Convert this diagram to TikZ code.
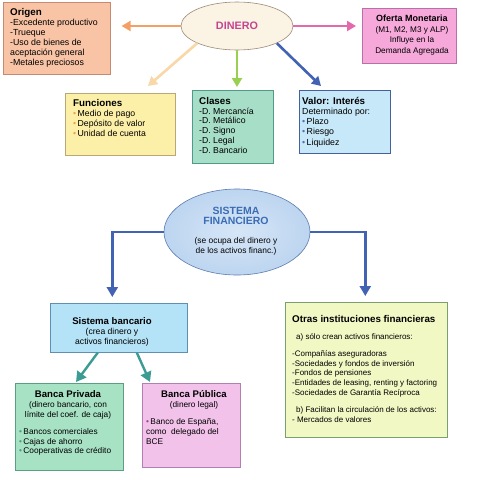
\documentclass[tikz,border=0pt]{standalone}
\usepackage{fontspec}
\setmainfont{Liberation Sans}
\usetikzlibrary{arrows.meta,calc,shapes.geometric}
\definecolor{fOrig}{HTML}{F9C4A6}\definecolor{bOrig}{HTML}{C48A72}
\definecolor{fOfer}{HTML}{F6A8DA}\definecolor{bOfer}{HTML}{B870A8}
\definecolor{fFunc}{HTML}{FCF0A8}\definecolor{bFunc}{HTML}{B8A878}
\definecolor{fClas}{HTML}{A6DEC8}\definecolor{bClas}{HTML}{4F9A88}
\definecolor{fValo}{HTML}{C6E8F8}\definecolor{bValo}{HTML}{45609A}
\definecolor{fDine}{HTML}{FBF4E4}\definecolor{bDine}{HTML}{9C8A78}
\definecolor{fSist}{HTML}{BDD5F0}\definecolor{iSist}{HTML}{D6E6F7}\definecolor{bSist}{HTML}{5C7CB0}
\definecolor{fBanc}{HTML}{B4E2F6}\definecolor{bBanc}{HTML}{6090B0}
\definecolor{fOtra}{HTML}{F2F8C4}\definecolor{bOtra}{HTML}{7AA070}
\definecolor{fPriv}{HTML}{A8E2C4}\definecolor{bPriv}{HTML}{5AA080}
\definecolor{fPubl}{HTML}{F2C2EA}\definecolor{bPubl}{HTML}{B080B0}
\definecolor{aBlue}{HTML}{4262B4}\definecolor{aTeal}{HTML}{3C9C94}
\definecolor{aOran}{HTML}{F2A066}\definecolor{aPink}{HTML}{E468AC}
\definecolor{aGree}{HTML}{98D050}\definecolor{aPeac}{HTML}{F9D7A6}
\definecolor{tDine}{HTML}{C44490}\definecolor{tSist}{HTML}{3C6CB4}
\definecolor{uOran}{HTML}{F0A050}\definecolor{uBlue}{HTML}{5070C0}
\definecolor{uGree}{HTML}{40A080}\definecolor{uPurp}{HTML}{A04090}
\newcommand{\bul}[1]{\textcolor{#1}{\textbullet}\,}
\newcommand{\ttl}[1]{{\bfseries\fontsize{9.8}{10}\selectfont #1}}
\newcommand{\sst}[1]{{\bfseries\color{tSist}\fontsize{10.5}{12}\selectfont #1}}
\newcommand{\ssm}[1]{{\fontsize{8.4}{10.5}\selectfont #1}}
\begin{document}
\begin{tikzpicture}[x=1pt,y=-1pt,
  box/.style={draw, line width=0.6pt, inner sep=0pt, anchor=north west},
  txt/.style={inner sep=0pt, align=left, anchor=north west},
  ctxt/.style={inner sep=0pt, align=center},
  arr/.style={line width=2.6pt, -{Triangle[length=9pt,width=10pt]}},
  arrb/.style={line width=2.4pt, -{Triangle[length=10pt,width=11pt]}}]
\useasboundingbox (0,0) rectangle (478,480);
\fill[white] (0,0) rectangle (478,480);

% top boxes
\node[box, fill=fOrig, draw=bOrig, minimum width=107pt, minimum height=72pt] (origen) at (3,2) {};
\node[box, fill=fOfer, draw=bOfer, minimum width=94pt, minimum height=55pt] (oferta) at (362,8) {};
\node[box, fill=fFunc, draw=bFunc, minimum width=110pt, minimum height=62pt] (funciones) at (65,93) {};
\node[box, fill=fClas, draw=bClas, minimum width=81pt, minimum height=73pt] (clases) at (192,90) {};
\node[box, fill=fValo, draw=bValo, minimum width=91pt, minimum height=63pt] (valor) at (299,90) {};
\node[ellipse, draw=bDine, fill=fDine, line width=0.6pt, minimum width=112pt, minimum height=48pt, inner sep=0pt] (dinero) at (237,26) {};
\node[ctxt, text=tDine, font=\bfseries\fontsize{10.8}{12}\selectfont] (dineroT) at (dinero.center) {DINERO};

\node[txt, font=\fontsize{8.8}{10}\selectfont] (origenT) at (10,8)
  {\ttl{Origen}\\-Excedente productivo\\-Trueque\\-Uso de bienes de\\aceptación general\\-Metales preciosos};
\node[ctxt, font=\fontsize{8.2}{10.8}\selectfont] (ofertaT) at (412,35)
  {{\bfseries\fontsize{9}{10.5}\selectfont Oferta Monetaria}\\(M1, M2, M3 y ALP)\\Influye en la\\Demanda Agregada};
\node[txt, font=\fontsize{8.7}{10}\selectfont] (funcionesT) at (73,99)
  {\ttl{Funciones}\\\bul{uOran}Medio de pago\\\bul{uOran}Depósito de valor\\\bul{uOran}Unidad de cuenta};
\node[txt, font=\fontsize{8.7}{9.8}\selectfont] (clasesT) at (199,97)
  {\ttl{Clases}\\-D. Mercancía\\-D. Metálico\\-D. Signo\\-D. Legal\\-D. Bancario};
\node[txt, font=\fontsize{8.8}{10.2}\selectfont] (valorT) at (302,97)
  {\ttl{Valor: Interés}\\Determinado por:\\\bul{uBlue}Plazo\\\bul{uBlue}Riesgo\\\bul{uBlue}Liquidez};

% arrows from DINERO
\coordinate (fTip) at (148,86);
\coordinate (vTip) at (321,86);
\draw[arr, aOran] (dinero.west) -- ($(origen.east |- dinero.west)+(11,0)$);
\draw[arr, aPink] (dinero.east) -- ($(oferta.west |- dinero.east)+(-6,0)$);
\draw[arr, aGree] (dinero.south) -- ($(dinero.south |- clases.north)+(0,-3)$);
\draw[arr, aPeac] (dinero.south west) -- (fTip);
\draw[arr, aBlue] (dinero.south east) -- (vTip);

% sistema financiero
\node[ellipse, draw=bSist, inner color=iSist, outer color=fSist, line width=0.6pt, minimum width=146pt, minimum height=86pt, inner sep=0pt] (sistema) at (237,232) {};
\node[ctxt, font=\fontsize{8.4}{10.5}\selectfont] (sistemaT) at (236,231)
  {\sst{SISTEMA}\\\sst{FINANCIERO}\\[8pt]\ssm{(se ocupa del dinero y}\\\ssm{de los activos financ.)}};

\node[box, fill=fBanc, draw=bBanc, minimum width=137pt, minimum height=49pt] (bancario) at (50,303) {};
\node[ctxt, font=\fontsize{8.6}{10.4}\selectfont] (bancarioT) at (112,332)
  {{\bfseries\fontsize{9.6}{10.4}\selectfont Sistema bancario}\\(crea dinero y\\activos financieros)};

\node[box, fill=fOtra, draw=bOtra, minimum width=162pt, minimum height=135pt] (otras) at (285,302) {};
\node[txt, font=\fontsize{8}{9.9}\selectfont] (otrasT) at (292,315)
  {{\bfseries\fontsize{9.8}{10}\selectfont Otras instituciones financieras}\\[7pt]
   \hspace{4pt}a) sólo crean activos financieros:\\[7pt]
   -Compañías aseguradoras\\
   -Sociedades y fondos de inversión\\
   -Fondos de pensiones\\
   -Entidades de leasing, renting y factoring\\
   -Sociedades de Garantía Recíproca\\[7pt]
   \hspace{4pt}b) Facilitan la circulación de los activos:\\
   - Mercados de valores};

\node[box, fill=fPriv, draw=bPriv, minimum width=108pt, minimum height=87pt] (privada) at (15,383) {};
\node[ctxt, font=\fontsize{8.3}{9.7}\selectfont] (privadaT) at (68,405)
  {{\bfseries\fontsize{9.6}{10}\selectfont Banca Privada}\\(dinero bancario, con\\límite del coef. de caja)};
\node[txt, font=\fontsize{8.3}{9.8}\selectfont] (privadaL) at (19,428)
  {\bul{uGree}Bancos comerciales\\\bul{uGree}Cajas de ahorro\\\bul{uGree}Cooperativas de crédito};

\node[box, fill=fPubl, draw=bPubl, minimum width=98pt, minimum height=84pt] (publica) at (142,383) {};
\node[ctxt, font=\fontsize{8.3}{10.5}\selectfont] (publicaT) at (194,400)
  {{\bfseries\fontsize{9.6}{10}\selectfont Banca Pública}\\(dinero legal)};
\node[txt, font=\fontsize{8.3}{10}\selectfont] (publicaL) at (146,418)
  {\bul{uPurp}Banco de España,\\como\ \ delegado del\\BCE};

% connectors from sistema
\draw[arrb, aBlue] (sistema.west) -| ($(bancario.north)+(-6.5,-6)$);
\draw[arrb, aBlue] (sistema.east) -| ($(otras.north)+(-1,-6)$);
\coordinate (privTip) at (76,382);
\coordinate (publTip) at (150,382);
\draw[arrb, aTeal] ($(bancario.south)+(-21,0)$) -- (privTip);
\draw[arrb, aTeal] ($(bancario.south)+(18,0)$) -- (publTip);
\end{tikzpicture}
\end{document}
